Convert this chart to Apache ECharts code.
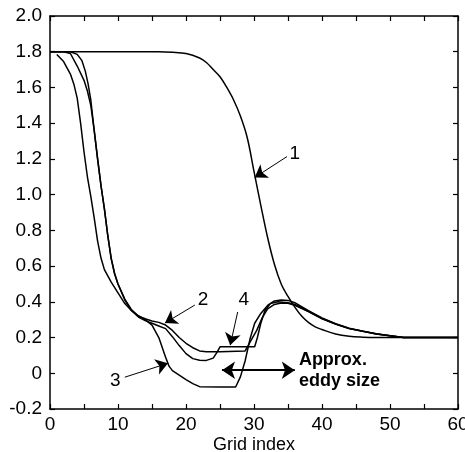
<!DOCTYPE html>
<html style="height: 100%">
  <head>
    <meta charset="UTF-8" />
    <title>Grid index profiles</title>
    <script src="https://cdn.jsdelivr.net/npm/echarts@6/dist/echarts.min.js"></script>
  </head>
  <body style="height: 100%; margin: 0; background: #fff">
    <div id="main" style="width: 465px; height: 452px"></div>
    <script>
      // curves, [grid index, value]
      var curve1 = [
        [0, 1.8], [10, 1.8], [16, 1.8], [18, 1.797], [20, 1.79], [22, 1.765],
        [23, 1.74], [24, 1.7], [25, 1.66], [26, 1.6], [27, 1.53], [28, 1.44],
        [29, 1.32], [30, 1.13], [31, 0.94], [32, 0.76], [33, 0.61], [34, 0.5],
        [35, 0.43], [36, 0.37], [37, 0.32], [38, 0.285], [39, 0.26], [40, 0.245],
        [42, 0.22], [44, 0.207], [46, 0.202], [48, 0.2], [60, 0.2]
      ];
      var curve2 = [
        [0, 1.8], [2, 1.8], [3, 1.79], [4, 1.72], [5, 1.64], [5.5, 1.58],
        [6, 1.5], [6.5, 1.36], [7, 1.2], [7.5, 1.05], [8, 0.92], [8.5, 0.77],
        [9, 0.64], [9.5, 0.555], [10, 0.5], [11, 0.415], [12, 0.355], [13, 0.32],
        [14, 0.305], [15, 0.293], [16, 0.285], [17, 0.27], [18, 0.24], [19, 0.2],
        [20, 0.168], [21, 0.143], [22, 0.125], [23, 0.12], [25, 0.12], [28.7, 0.125],
        [29.5, 0.18], [30.4, 0.24], [31.2, 0.31], [32, 0.36], [33, 0.385], [34, 0.393],
        [35, 0.392], [36, 0.38], [38, 0.345], [40, 0.305], [42, 0.275], [44, 0.25],
        [46, 0.235], [48, 0.22], [50, 0.21], [52, 0.2], [60, 0.2]
      ];
      var curve3 = [
        [1, 1.785], [2, 1.745], [3, 1.675], [3.5, 1.62], [4, 1.54], [4.5, 1.4],
        [5, 1.24], [5.5, 1.1], [6, 0.99], [6.5, 0.87], [7, 0.74], [7.5, 0.645],
        [8, 0.58], [9, 0.51], [10, 0.45], [11, 0.39], [12, 0.35], [13, 0.322],
        [14, 0.3], [15, 0.27], [16, 0.2], [17, 0.09], [17.5, 0.04], [18, 0.015],
        [19, -0.01], [20, -0.035], [21, -0.058], [22, -0.075], [25, -0.077],
        [27.3, -0.077], [28, -0.02], [28.7, 0.07], [29.4, 0.19], [30.1, 0.28],
        [31, 0.335], [32, 0.38], [33, 0.405], [34, 0.41], [35, 0.408], [36, 0.395],
        [38, 0.35], [40, 0.31], [42, 0.277], [44, 0.252], [46, 0.236], [48, 0.221],
        [50, 0.21], [52, 0.2], [60, 0.2]
      ];
      var curve4 = [
        [0, 1.8], [3, 1.8], [4, 1.785], [4.7, 1.75], [5.2, 1.69], [5.6, 1.62],
        [6, 1.53], [6.5, 1.36], [7, 1.2], [7.5, 1.05], [8, 0.92], [8.5, 0.77],
        [9, 0.645], [9.5, 0.56], [10, 0.5], [11, 0.41], [12, 0.35], [13, 0.315],
        [14, 0.295], [15, 0.28], [16, 0.265], [17, 0.25], [18, 0.205], [19, 0.155],
        [20, 0.11], [21, 0.082], [22, 0.073], [23, 0.072], [24, 0.085], [24.6, 0.12],
        [25, 0.148], [30.1, 0.148], [30.5, 0.2], [31, 0.28], [31.6, 0.35],
        [32.4, 0.39], [33.5, 0.4], [35, 0.395], [36, 0.385], [38, 0.347], [40, 0.307],
        [42, 0.276], [44, 0.251], [46, 0.235], [48, 0.22], [50, 0.21], [52, 0.2], [60, 0.2]
      ];

      // annotation arrows [from, to] and labels, in data units
      var arrows = [
        [[34.85, 1.213], [30.1, 1.096]],
        [[21.3, 0.382], [16.9, 0.281]],
        [[27.6, 0.343], [26.5, 0.157]],
        [[11.0, -0.022], [17.35, 0.056]]
      ];
      var numberLabels = [
        ['1', 36.0, 1.23],
        ['2', 22.5, 0.41],
        ['4', 28.5, 0.41],
        ['3', 9.6, -0.04]
      ];
      var eddyArrow = [[25.3, 0.017], [36.0, 0.017]];

      var chart = echarts.init(document.getElementById('main'));

      var font = 'Liberation Sans, Arial, sans-serif';
      var black = '#000';

      function fmtY(v) {
        if (Math.abs(v) < 1e-9) return '0';
        return v.toFixed(1);
      }

      function lineSeries(name, data, smooth) {
        return {
          name: name,
          type: 'line',
          data: data,
          showSymbol: false,
          symbol: 'none',
          smooth: smooth,
          lineStyle: { color: black, width: 1.5 },
          silent: true
        };
      }

      var s1 = lineSeries('1', curve1, 0.35);
      s1.markLine = {
        silent: true,
        symbol: ['none', 'arrow'],
        symbolSize: 12,
        label: { show: false },
        lineStyle: { color: black, width: 1, type: 'solid' },
        data: arrows.map(function (a) {
          return [{ coord: a[0] }, { coord: a[1] }];
        })
      };
      s1.markPoint = {
        silent: true,
        data: numberLabels.map(function (l) {
          return {
            coord: [l[1], l[2]],
            symbol: 'circle',
            symbolSize: 0,
            label: {
              show: true,
              position: 'inside',
              formatter: l[0],
              color: black,
              fontSize: 19,
              fontFamily: font
            }
          };
        })
      };

      var s2 = lineSeries('2', curve2, false);
      s2.markLine = {
        silent: true,
        symbol: ['arrow', 'arrow'],
        symbolSize: 13,
        label: { show: false },
        lineStyle: { color: black, width: 2, type: 'solid' },
        data: [[{ coord: eddyArrow[0] }, { coord: eddyArrow[1] }]]
      };
      s2.markPoint = {
        silent: true,
        data: [
          {
            coord: [36.6, 0.017],
            symbol: 'circle',
            symbolSize: 0,
            label: {
              show: true,
              position: 'right',
              distance: 0,
              formatter: 'Approx.\neddy size',
              color: black,
              fontSize: 18,
              fontWeight: 'bold',
              lineHeight: 21,
              align: 'left',
              fontFamily: font
            }
          }
        ]
      };

      var tickStyle = { inside: true, length: 5, lineStyle: { color: black, width: 1.2 } };

      var option = {
        animation: false,
        backgroundColor: '#fff',
        grid: {
          left: 50, right: 7, top: 16, bottom: 43,
          containLabel: false,
          outerBoundsMode: 'none'
        },
        xAxis: [
          {
            type: 'value',
            min: 0,
            max: 60,
            interval: 5,
            name: 'Grid index',
            nameLocation: 'middle',
            nameGap: 27,
            nameMoveOverlap: false,
            nameTextStyle: { color: black, fontSize: 18, fontFamily: font },
            axisLine: { onZero: false, lineStyle: { color: black, width: 1.5 } },
            axisTick: tickStyle,
            axisLabel: {
              color: black,
              fontSize: 19,
              fontFamily: font,
              margin: 6,
              formatter: function (v) {
                return v % 10 === 0 ? String(v) : '';
              }
            },
            splitLine: { show: false }
          },
          {
            type: 'value',
            position: 'top',
            min: 0,
            max: 60,
            interval: 5,
            axisLine: { onZero: false, lineStyle: { color: black, width: 1.5 } },
            axisTick: tickStyle,
            axisLabel: { show: false },
            splitLine: { show: false }
          }
        ],
        yAxis: [
          {
            type: 'value',
            min: -0.2,
            max: 2.0,
            interval: 0.2,
            axisLine: { show: true, onZero: false, lineStyle: { color: black, width: 1.5 } },
            axisTick: Object.assign({ show: true }, tickStyle),
            axisLabel: {
              color: black,
              fontSize: 19,
              fontFamily: font,
              margin: 8,
              formatter: fmtY
            },
            splitLine: { show: false }
          },
          {
            type: 'value',
            position: 'right',
            min: -0.2,
            max: 2.0,
            interval: 0.2,
            axisLine: { show: true, onZero: false, lineStyle: { color: black, width: 1.5 } },
            axisTick: Object.assign({ show: true }, tickStyle),
            axisLabel: { show: false },
            splitLine: { show: false }
          }
        ],
        series: [s1, s2, lineSeries('3', curve3, false), lineSeries('4', curve4, false)]
      };

      chart.setOption(option);
    </script>
  </body>
</html>
